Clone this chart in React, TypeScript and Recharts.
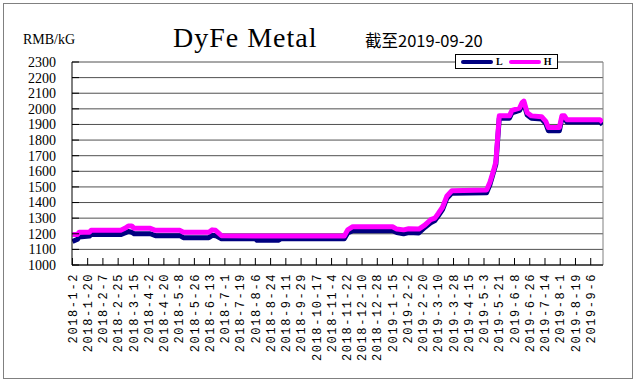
import { LineChart, Line, XAxis, YAxis, CartesianGrid, Legend, ReferenceLine } from 'recharts'

// change points (daily price steps)
const dates = [
  '2018-01-02', '2018-01-08', '2018-01-10', '2018-01-22', '2018-01-24', '2018-02-28', '2018-03-05', '2018-03-09',
  '2018-03-13', '2018-03-16', '2018-04-04', '2018-04-10', '2018-05-09', '2018-05-13', '2018-06-12', '2018-06-16',
  '2018-06-20', '2018-06-27', '2018-08-06', '2018-08-08', '2018-09-02', '2018-09-05', '2018-11-19', '2018-11-23',
  '2018-11-29', '2019-01-15', '2019-01-20', '2019-01-28', '2019-02-03', '2019-02-15', '2019-02-22', '2019-03-01',
  '2019-03-06', '2019-03-10', '2019-03-15', '2019-03-20', '2019-03-26', '2019-05-06', '2019-05-10', '2019-05-14',
  '2019-05-17', '2019-05-21', '2019-06-02', '2019-06-05', '2019-06-14', '2019-06-17', '2019-06-19', '2019-06-23',
  '2019-06-28', '2019-07-10', '2019-07-15', '2019-07-18', '2019-07-31', '2019-08-03', '2019-08-06', '2019-08-09',
  '2019-09-17', '2019-09-20',
]

const lowPrices = [
  1150, 1165, 1180, 1185, 1195, 1195, 1205, 1215, 1210, 1200, 1200, 1188, 1188, 1175, 1175, 1190,
  1188, 1168, 1168, 1158, 1158, 1168, 1168, 1205, 1220, 1220, 1208, 1200, 1208, 1205, 1240, 1270,
  1285, 1315, 1355, 1425, 1460, 1462, 1515, 1590, 1645, 1940, 1940, 1975, 1990, 2025, 2035, 1960,
  1940, 1935, 1905, 1860, 1860, 1940, 1940, 1915, 1915, 1900,
]

const highPrices = [
  1195, 1195, 1210, 1210, 1222, 1222, 1235, 1250, 1250, 1235, 1235, 1222, 1222, 1210, 1210, 1225,
  1222, 1188, 1185, 1185, 1185, 1185, 1185, 1225, 1245, 1245, 1230, 1225, 1232, 1230, 1255, 1290,
  1300, 1330, 1370, 1440, 1475, 1480, 1530, 1600, 1660, 1955, 1955, 1990, 2005, 2040, 2050, 1975,
  1955, 1950, 1920, 1880, 1880, 1955, 1955, 1930, 1930, 1915,
]

const tickLabels = [
  '2018-1-2', '2018-1-20', '2018-2-7', '2018-2-25', '2018-3-15', '2018-4-2', '2018-4-20', '2018-5-8',
  '2018-5-26', '2018-6-13', '2018-7-1', '2018-7-19', '2018-8-6', '2018-8-24', '2018-9-11', '2018-9-29',
  '2018-10-17', '2018-11-4', '2018-11-22', '2018-12-10', '2018-12-28', '2019-1-15', '2019-2-2', '2019-2-20',
  '2019-3-10', '2019-3-28', '2019-4-15', '2019-5-3', '2019-5-21', '2019-6-8', '2019-6-26', '2019-7-14',
  '2019-8-1', '2019-8-19', '2019-9-6',
]

const yTicks = [1000, 1100, 1200, 1300, 1400, 1500, 1600, 1700, 1800, 1900, 2000, 2100, 2200, 2300]

const seriesNames = ['L', 'H']
const seriesColors = ['#000080', '#ff00ff']

const DAY0 = Date.UTC(2018, 0, 2)
function dayOf(s: string) {
  const [y, m, d] = s.split('-').map(Number)
  return Math.round((Date.UTC(y, m - 1, d) - DAY0) / 86400000)
}

const data = dates.map((d, i) => ({ day: dayOf(d), L: lowPrices[i], H: highPrices[i] }))
const tickDays = tickLabels.map(dayOf)
const lastDay = dayOf(dates[dates.length - 1])

function XTick({ x, y, payload }: any) {
  const label = tickLabels[tickDays.indexOf(payload.value)] ?? ''
  return (
    <g>
      <line x1={x} x2={x} y1={y - 8} y2={y - 15} stroke="#000" />
      <text
        x={x}
        y={y}
        transform={`rotate(-90, ${x}, ${y})`}
        textAnchor="end"
        dy="0.35em"
        fontFamily="Liberation Mono"
        fontSize={12}
        letterSpacing={1.6}
        fill="#000"
      >
        {label}
      </text>
    </g>
  )
}

function YTick({ x, y, payload }: any) {
  return (
    <g>
      <line x1={x + 16} x2={x + 23} y1={y} y2={y} stroke="#000" />
      <text x={x} y={y} textAnchor="end" dy="0.35em" fontFamily="Liberation Serif" fontSize={14} fill="#000">
        {payload.value}
      </text>
    </g>
  )
}

function LegendBox() {
  return (
    <div
      style={{
        width: 103, height: 15, border: '1px solid #000', background: '#fff', boxSizing: 'border-box',
        display: 'flex', alignItems: 'center', paddingLeft: 5,
      }}
    >
      {seriesNames.map((n, i) => (
        <span key={n} style={{ display: 'flex', alignItems: 'center', marginRight: 6 }}>
          <span style={{ width: 32, height: 4, background: seriesColors[i], borderRadius: 2 }} />
          <span style={{ fontSize: 10, fontWeight: 'bold', fontFamily: 'Liberation Serif', marginLeft: 3, lineHeight: '10px' }}>
            {n}
          </span>
        </span>
      ))}
    </div>
  )
}

export default function App() {
  return (
    <div style={{ position: 'absolute', left: 0, top: 0, width: 638, height: 386, background: '#fff' }}>
      <div style={{ position: 'absolute', left: 3, top: 3, width: 628, height: 374, border: '1px solid #808080' }} />
      <LineChart
        width={638}
        height={386}
        data={data}
        margin={{ top: 62, right: 35, bottom: 21, left: 0 }}
        style={{ position: 'absolute', left: 0, top: 0 }}
      >
        <CartesianGrid vertical={false} stroke="#505050" />
        <XAxis
          dataKey="day"
          type="number"
          domain={[-0.5, 626.5]}
          allowDataOverflow
          ticks={tickDays}
          interval={0}
          height={100}
          tickSize={0}
          tickMargin={8}
          tickLine={false}
          axisLine={{ stroke: '#000' }}
          tick={<XTick />}
        />
        <YAxis
          domain={[1000, 2300]}
          ticks={yTicks}
          interval={0}
          width={72}
          tickSize={0}
          tickMargin={16}
          tickLine={false}
          axisLine={{ stroke: '#000' }}
          tick={<YTick />}
        />
        <ReferenceLine x={lastDay + 0.5} stroke="#808080" />
        <Legend
          content={<LegendBox />}
          verticalAlign="middle"
          align="center"
          wrapperStyle={{ left: 455, top: 54, width: 103, height: 15 }}
        />
        <Line
          dataKey="L"
          name={seriesNames[0]}
          type="linear"
          stroke={seriesColors[0]}
          strokeWidth={5}
          strokeLinejoin="round"
          dot={false}
          isAnimationActive={false}
        />
        <Line
          dataKey="H"
          name={seriesNames[1]}
          type="linear"
          stroke={seriesColors[1]}
          strokeWidth={5}
          strokeLinejoin="round"
          dot={false}
          isAnimationActive={false}
        />
      </LineChart>
      <svg width={638} height={386} style={{ position: 'absolute', left: 0, top: 0, pointerEvents: 'none' }}>
        <text x={23} y={44} fontFamily="Liberation Serif" fontSize={14} fill="#000">RMB/kG</text>
        <text x={173} y={47} fontFamily="Liberation Serif" fontSize={28} letterSpacing={1} fill="#000">DyFe Metal</text>
        <text x={365} y={47} fontFamily="Noto Sans CJK SC" fontSize={16.5} fill="#000">截至2019-09-20</text>
      </svg>
    </div>
  )
}
